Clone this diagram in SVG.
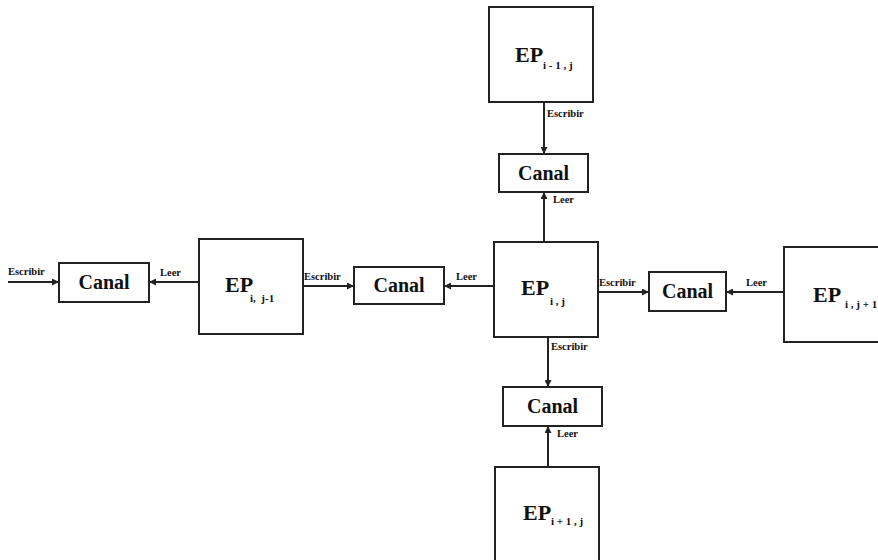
<svg xmlns="http://www.w3.org/2000/svg" width="878" height="560" viewBox="0 0 878 560">
<style>
.box{fill:#fff;stroke:#222;stroke-width:2}
.ep{font-family:"Liberation Serif",serif;font-weight:bold;font-size:22px;fill:#111}
.sub{font-family:"Liberation Serif",serif;font-weight:bold;font-size:11px;fill:#111}
.canal{font-family:"Liberation Serif",serif;font-weight:bold;font-size:20px;fill:#111;text-anchor:middle}
.lbl{font-family:"Liberation Serif",serif;font-weight:bold;font-size:10.5px;fill:#111}
.con{stroke:#222;stroke-width:2;fill:none;marker-end:url(#ah)}
</style>
<defs>
<marker id="ah" viewBox="0 0 10 10" refX="10" refY="5" markerWidth="3.5" markerHeight="3.5" orient="auto" markerUnits="strokeWidth">
<path d="M0,0 L10,5 L0,10 z" fill="#222"/>
</marker>
</defs>
<rect width="878" height="560" fill="#fff"/>
<g id="connectors">
<line class="con" x1="8" y1="282" x2="59" y2="282"/>
<line class="con" x1="199" y1="282" x2="149" y2="282"/>
<line class="con" x1="303" y1="286" x2="354" y2="286"/>
<line class="con" x1="494" y1="286" x2="444" y2="286"/>
<line class="con" x1="598" y1="292" x2="649" y2="292"/>
<line class="con" x1="784" y1="292" x2="726" y2="292"/>
<line class="con" x1="544" y1="102" x2="544" y2="154"/>
<line class="con" x1="544" y1="242" x2="544" y2="192"/>
<line class="con" x1="548" y1="337" x2="548" y2="387"/>
<line class="con" x1="548" y1="467" x2="548" y2="426"/>
<text class="lbl" x="8" y="275">Escribir</text>
<text class="lbl" x="160" y="276">Leer</text>
<text class="lbl" x="304" y="280">Escribir</text>
<text class="lbl" x="456" y="280">Leer</text>
<text class="lbl" x="599" y="286">Escribir</text>
<text class="lbl" x="746" y="286">Leer</text>
<text class="lbl" x="547" y="117">Escribir</text>
<text class="lbl" x="553" y="203">Leer</text>
<text class="lbl" x="551" y="350">Escribir</text>
<text class="lbl" x="557" y="437">Leer</text>
</g>
<g id="ep-top">
<rect class="box" x="489" y="7" width="104" height="95"/>
<text class="ep" x="515" y="62">EP</text>
<text class="sub" x="543" y="69" xml:space="preserve">i - 1 , j</text>
</g>
<g id="ep-center">
<rect class="box" x="494" y="242" width="104" height="95"/>
<text class="ep" x="521" y="295">EP</text>
<text class="sub" x="550" y="305" xml:space="preserve">i , j</text>
</g>
<g id="ep-left">
<rect class="box" x="199" y="239" width="104" height="95"/>
<text class="ep" x="225" y="292">EP</text>
<text class="sub" x="250" y="302" xml:space="preserve">i,  j-1</text>
</g>
<g id="ep-right">
<rect class="box" x="784" y="247" width="104" height="95"/>
<text class="ep" x="813" y="302">EP</text>
<text class="sub" x="845" y="308" xml:space="preserve">i , j + 1</text>
</g>
<g id="ep-bottom">
<rect class="box" x="495" y="467" width="104" height="105"/>
<text class="ep" x="523" y="520">EP</text>
<text class="sub" x="551" y="525" xml:space="preserve">i + 1 , j</text>
</g>
<g id="canal-top">
<rect class="box" x="499" y="154" width="89" height="38"/>
<text class="canal" x="543.5" y="180">Canal</text>
</g>
<g id="canal-left">
<rect class="box" x="59" y="263" width="90" height="39"/>
<text class="canal" x="104" y="289">Canal</text>
</g>
<g id="canal-mid">
<rect class="box" x="354" y="267" width="90" height="37"/>
<text class="canal" x="399" y="292">Canal</text>
</g>
<g id="canal-right">
<rect class="box" x="649" y="272" width="77" height="39"/>
<text class="canal" x="687.5" y="298">Canal</text>
</g>
<g id="canal-bottom">
<rect class="box" x="503" y="387" width="99" height="39"/>
<text class="canal" x="552.5" y="413">Canal</text>
</g>
</svg>
